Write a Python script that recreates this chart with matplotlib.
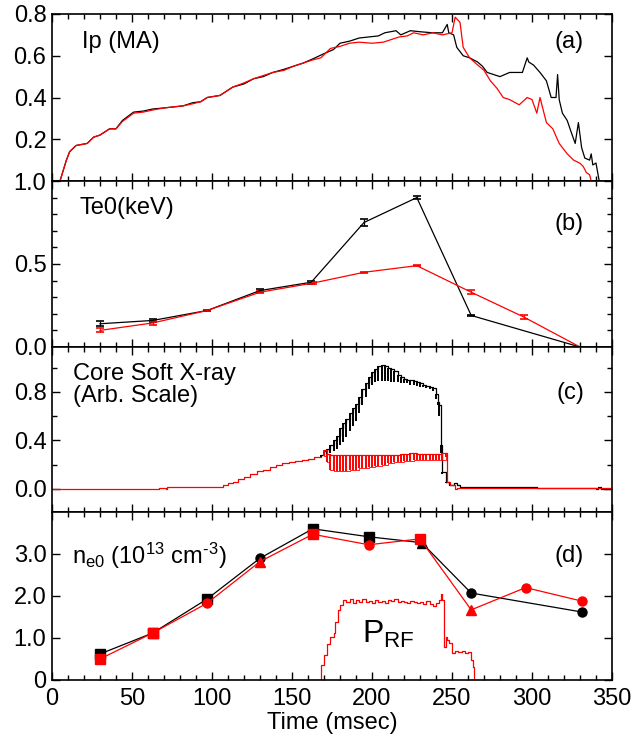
import matplotlib
matplotlib.use("Agg")
import matplotlib.pyplot as plt
from matplotlib.ticker import MultipleLocator, FixedLocator

plt.rcParams.update({
    "font.family": ["Liberation Sans", "DejaVu Sans"],
    "font.size": 17,
    "mathtext.fontset": "custom",
    "mathtext.rm": "Liberation Sans",
    "mathtext.it": "Liberation Sans:italic",
    "mathtext.bf": "Liberation Sans:bold",
})

# ---- data ----
# (a) plasma current, MA
ip_t_black = [5, 7, 9, 11, 15, 22, 26, 30, 36, 40, 44, 51, 57, 63, 70, 76, 82, 88, 93, 97,
              105, 113, 120, 126, 132, 138, 145, 151, 157, 163, 170, 176, 180, 186, 192, 198,
              204, 208, 215, 218, 224, 230, 238, 244, 247, 248, 251, 253, 257, 261, 266, 269,
              272, 276, 280, 286, 294, 297, 298, 301, 305, 309, 312, 315, 316, 317, 319, 322,
              324, 327, 329, 331, 333, 336, 337, 338, 340, 342]
ip_black = [0.0, 0.05, 0.10, 0.14, 0.17, 0.18, 0.21, 0.22, 0.25, 0.25, 0.29, 0.33, 0.335, 0.345,
            0.35, 0.355, 0.36, 0.375, 0.38, 0.40, 0.41, 0.45, 0.465, 0.49, 0.50, 0.52, 0.535,
            0.55, 0.565, 0.585, 0.61, 0.63, 0.66, 0.67, 0.685, 0.69, 0.695, 0.71, 0.72, 0.70,
            0.72, 0.715, 0.71, 0.71, 0.75, 0.71, 0.70, 0.64, 0.60, 0.59, 0.57, 0.55, 0.52,
            0.51, 0.50, 0.52, 0.52, 0.59, 0.57, 0.555, 0.52, 0.48, 0.40, 0.40, 0.51, 0.39,
            0.325, 0.29, 0.245, 0.18, 0.28, 0.16, 0.11, 0.10, 0.13, 0.077, 0.086, 0.0]

ip_t_red = [5, 7, 9, 11, 15, 22, 26, 30, 36, 40, 44, 51, 57, 63, 70, 76, 82, 88, 93, 97,
            105, 113, 120, 126, 132, 138, 145, 151, 157, 163, 168, 174, 180, 186, 192, 200,
            207, 211, 217, 222, 226, 232, 238, 244, 250, 252, 255, 257, 261, 266, 270, 274,
            278, 282, 286, 292, 297, 300, 303, 305, 307, 309, 313, 317, 322, 326, 330, 332,
            334, 336, 337]
ip_red = [0.0, 0.05, 0.10, 0.14, 0.17, 0.18, 0.21, 0.22, 0.25, 0.25, 0.285, 0.325, 0.33, 0.34,
          0.35, 0.355, 0.36, 0.37, 0.38, 0.40, 0.41, 0.45, 0.47, 0.49, 0.505, 0.52, 0.53, 0.55,
          0.565, 0.58, 0.59, 0.635, 0.645, 0.66, 0.665, 0.66, 0.665, 0.675, 0.69, 0.695, 0.71,
          0.70, 0.71, 0.70, 0.71, 0.785, 0.76, 0.64, 0.59, 0.556, 0.53, 0.48, 0.445, 0.40,
          0.39, 0.365, 0.40, 0.39, 0.325, 0.40, 0.34, 0.28, 0.25, 0.18, 0.13, 0.10, 0.085,
          0.07, 0.04, 0.03, 0.0]

# (b) central electron temperature, keV
te_t_black = [30, 63, 97, 130, 162, 195, 228, 262, 330]
te_black = [0.14, 0.16, 0.22, 0.34, 0.39, 0.75, 0.90, 0.19, 0.0]
te_err_black = [0.015, 0.008, 0.005, 0.01, 0.008, 0.02, 0.01, 0.005, 0.0]
te_t_red = [30, 63, 97, 130, 163, 195, 228, 262, 295, 330]
te_red = [0.10, 0.145, 0.22, 0.33, 0.385, 0.45, 0.49, 0.33, 0.18, 0.0]
te_err_red = [0.012, 0.01, 0.004, 0.006, 0.006, 0.004, 0.004, 0.012, 0.01, 0.0]

# (c) core soft x-ray, arb.
sxr_t_early = [0, 66, 67, 71, 72, 105, 107, 110, 113, 116, 120, 124, 128, 132, 136, 140, 144,
               148, 152, 156, 160, 164, 168]
sxr_early = [0.0, 0.0, 0.01, 0.0, 0.015, 0.015, 0.03, 0.05, 0.06, 0.08, 0.10, 0.12, 0.15,
             0.16, 0.18, 0.20, 0.21, 0.22, 0.23, 0.24, 0.25, 0.26, 0.27]
sxr_t_black = [168, 170, 172, 174, 176, 178, 180, 182, 184, 186, 188, 190, 192, 194, 196, 198,
               200, 202, 204, 206, 208, 210, 212, 214, 216, 218, 220, 222, 224, 226, 228, 230,
               232, 234, 236, 238, 240, 241, 242, 243, 244, 246]
sxr_black_hi = [0.28, 0.31, 0.33, 0.36, 0.40, 0.44, 0.50, 0.54, 0.58, 0.63, 0.67, 0.70, 0.76,
                0.82, 0.87, 0.92, 0.96, 0.99, 1.01, 1.02, 1.01, 1.00, 0.99, 0.97, 0.94, 0.92,
                0.91, 0.90, 0.90, 0.89, 0.88, 0.87, 0.86, 0.85, 0.84, 0.83, 0.78, 0.72, 0.69,
                0.36, 0.14, 0.06]
sxr_black_lo = [0.26, 0.27, 0.28, 0.30, 0.31, 0.33, 0.36, 0.39, 0.43, 0.48, 0.52, 0.56, 0.63,
                0.69, 0.76, 0.82, 0.86, 0.88, 0.89, 0.89, 0.89, 0.89, 0.88, 0.88, 0.88, 0.87,
                0.87, 0.87, 0.86, 0.86, 0.85, 0.84, 0.84, 0.83, 0.82, 0.81, 0.74, 0.69, 0.60,
                0.30, 0.12, 0.05]
sxr_t_black_late = [246, 248, 251, 253, 255, 258, 300, 303, 340, 341, 343, 350]
sxr_black_late = [0.06, 0.03, 0.05, 0.03, 0.02, 0.015, 0.015, 0.01, 0.0, 0.015, 0.0, 0.0]

sxr_t_red = [170, 172, 174, 176, 178, 180, 182, 184, 186, 188, 190, 192, 194, 196, 198, 200,
             202, 204, 206, 208, 210, 212, 214, 216, 218, 220, 222, 224, 226, 228, 230, 232,
             234, 236, 238, 240, 242, 244, 246]
sxr_red_hi = [0.32, 0.29, 0.28, 0.28, 0.28, 0.28, 0.28, 0.28, 0.28, 0.28, 0.28, 0.28, 0.28,
              0.28, 0.28, 0.28, 0.28, 0.28, 0.28, 0.28, 0.28, 0.28, 0.28, 0.28, 0.29, 0.29,
              0.29, 0.30, 0.30, 0.29, 0.29, 0.29, 0.29, 0.29, 0.29, 0.29, 0.29, 0.30, 0.30]
sxr_red_lo = [0.27, 0.22, 0.16, 0.15, 0.15, 0.15, 0.15, 0.15, 0.16, 0.16, 0.16, 0.17, 0.17,
              0.17, 0.18, 0.18, 0.19, 0.19, 0.20, 0.20, 0.21, 0.21, 0.22, 0.22, 0.22, 0.23,
              0.23, 0.23, 0.24, 0.24, 0.24, 0.24, 0.24, 0.24, 0.24, 0.24, 0.24, 0.24, 0.26]
sxr_t_red_late = [246, 247, 249, 252, 253, 350]
sxr_red_late = [0.30, 0.06, 0.03, 0.0, 0.01, 0.0]

# (d) central electron density, 1e13 cm^-3
ne_t_black = [30, 63, 97, 130, 163, 198, 231, 262, 331]
ne_black = [0.62, 1.12, 1.93, 2.90, 3.60, 3.41, 3.27, 2.07, 1.62]
ne_t_red = [30, 63, 97, 130, 163, 198, 230, 262, 296, 331]
ne_red = [0.50, 1.12, 1.83, 2.82, 3.47, 3.22, 3.36, 1.67, 2.20, 1.88]

# RF power trace (arb., on panel d scale)
prf_t = [160, 167, 168, 170, 172, 174, 176, 177, 179, 180, 182, 184, 186, 188, 190, 192, 194,
         196, 198, 200, 202, 204, 206, 208, 210, 212, 214, 216, 218, 220, 222, 224, 226, 228,
         230, 232, 234, 236, 238, 240, 242, 243, 244, 245, 246, 247, 248, 250, 252, 254, 256,
         258, 260, 262, 263, 264, 265, 282]
prf = [0.0, 0.0, 0.36, 0.60, 0.85, 1.02, 1.12, 1.38, 1.67, 1.79, 1.90, 1.86, 1.92, 1.84, 1.90,
       1.86, 1.93, 1.85, 1.88, 1.84, 1.91, 1.86, 1.89, 1.83, 1.90, 1.87, 1.92, 1.85, 1.88, 1.86,
       1.84, 1.89, 1.85, 1.83, 1.86, 1.82, 1.87, 1.80, 1.76, 1.84, 1.90, 2.05, 1.90, 0.79, 1.02,
       0.95, 0.88, 0.64, 0.70, 0.66, 0.68, 0.64, 0.66, 0.48, 0.30, 0.0, 0.0, 0.0]

ne_marker_black = ["s", "s", "s", "o", "s", "s", "^", "o", "o"]
ne_marker_red = ["s", "s", "o", "^", "s", "o", "s", "^", "o", "o"]

# ---- layout ----
W, H = 634, 743
fig = plt.figure(figsize=(W / 100, H / 100), dpi=100)
x0, x1 = 52, 612
edges = [14, 181, 347, 512, 680]
axes = []
for i in range(4):
    top, bot = edges[i], edges[i + 1]
    ax = fig.add_axes([x0 / W, 1 - bot / H, (x1 - x0) / W, (bot - top) / H])
    axes.append(ax)

for ax in axes:
    ax.set_xlim(0, 350)
    ax.xaxis.set_major_locator(MultipleLocator(50))
    ax.xaxis.set_minor_locator(MultipleLocator(10))
    ax.tick_params(which="both", direction="in", top=True, right=True, width=1.0,
                   labelsize=17, pad=4)
    ax.tick_params(which="major", length=6)
    ax.tick_params(which="minor", length=3.5)
    for s in ax.spines.values():
        s.set_linewidth(1.2)
for ax in axes[:3]:
    ax.tick_params(labelbottom=False)

lw = 0.9

# (a)
ax = axes[0]
ax.plot(ip_t_black, ip_black, color="black", lw=lw)
ax.plot(ip_t_red, ip_red, color="red", lw=lw)
ax.set_ylim(0, 0.8)
ax.set_yticks([0.2, 0.4, 0.6, 0.8])
ax.set_yticklabels(["0.2", "0.4", "0.6", "0.8"])
ax.text(0.053, 0.83, "Ip (MA)", transform=ax.transAxes, va="center")
ax.text(0.95, 0.83, "(a)", transform=ax.transAxes, ha="right", va="center")

# (b)
ax = axes[1]
ax.errorbar(te_t_black, te_black, yerr=te_err_black, color="black", lw=lw,
            capsize=3, elinewidth=lw, capthick=1.2)
ax.errorbar(te_t_red, te_red, yerr=te_err_red, color="red", lw=lw,
            capsize=3, elinewidth=lw, capthick=1.2)
ax.set_ylim(0, 1.0)
ax.set_yticks([0.0, 0.5, 1.0])
ax.set_yticklabels(["0.0", "0.5", "1.0"])
ax.yaxis.set_minor_locator(MultipleLocator(0.1))
ax.text(0.05, 0.84, "Te0(keV)", transform=ax.transAxes, va="center")
ax.text(0.95, 0.74, "(b)", transform=ax.transAxes, ha="right", va="center")

# (c)
ax = axes[2]
ax.step(sxr_t_early, sxr_early, where="post", color="red", lw=lw)
ax.vlines(sxr_t_black, sxr_black_lo, sxr_black_hi, color="black", lw=1.4)
ax.step(sxr_t_black, sxr_black_hi, where="post", color="black", lw=lw)
ax.step(sxr_t_black_late, sxr_black_late, where="post", color="black", lw=lw)
ax.vlines(sxr_t_red, sxr_red_lo, sxr_red_hi, color="red", lw=1.4)
ax.step(sxr_t_red, sxr_red_hi, where="post", color="red", lw=lw)
ax.step(sxr_t_red, sxr_red_lo, where="post", color="red", lw=0.6)
ax.step(sxr_t_red_late, sxr_red_late, where="post", color="red", lw=lw)
ax.set_ylim(-0.19, 1.17)
ax.set_yticks([0.0, 0.4, 0.8])
ax.set_yticklabels(["0.0", "0.4", "0.8"])
ax.yaxis.set_minor_locator(FixedLocator([0.2, 0.6, 1.0]))
ax.text(0.037, 0.77, "Core Soft X-ray\n(Arb. Scale)", transform=ax.transAxes,
        va="center", linespacing=1.0)
ax.text(0.95, 0.72, "(c)", transform=ax.transAxes, ha="right", va="center")

# (d)
ax = axes[3]
ax.plot(ne_t_black, ne_black, color="black", lw=lw)
for t, v, m in zip(ne_t_black, ne_black, ne_marker_black):
    ax.plot(t, v, marker=m, color="black", ms=6.5)
ax.plot(ne_t_red, ne_red, color="red", lw=lw)
for t, v, m in zip(ne_t_red, ne_red, ne_marker_red):
    ax.plot(t, v, marker=m, color="red", ms=6.5)
ax.step(prf_t, prf, where="post", color="red", lw=lw)
ax.set_ylim(0, 4.0)
ax.set_yticks([0, 1, 2, 3])
ax.set_yticklabels(["0", "1.0", "2.0", "3.0"])
ax.text(0.036, 0.74, "n$_{\\rm e0}$ (10$^{\\rm 13}$ cm$^{\\rm \u20103}$)", transform=ax.transAxes,
        va="center")
ax.text(0.95, 0.74, "(d)", transform=ax.transAxes, ha="right", va="center")
ax.text(0.553, 0.27, r"P$_{\rm RF}$", transform=ax.transAxes, fontsize=23, va="center")
ax.set_xticks([0, 50, 100, 150, 200, 250, 300, 350])
ax.set_xticklabels(["0", "50", "100", "150", "200", "250", "300", "350"])
ax.tick_params(axis="x", pad=6)
ax.set_xlabel("Time (msec)", labelpad=1)

fig.savefig("out.png", dpi=100)
